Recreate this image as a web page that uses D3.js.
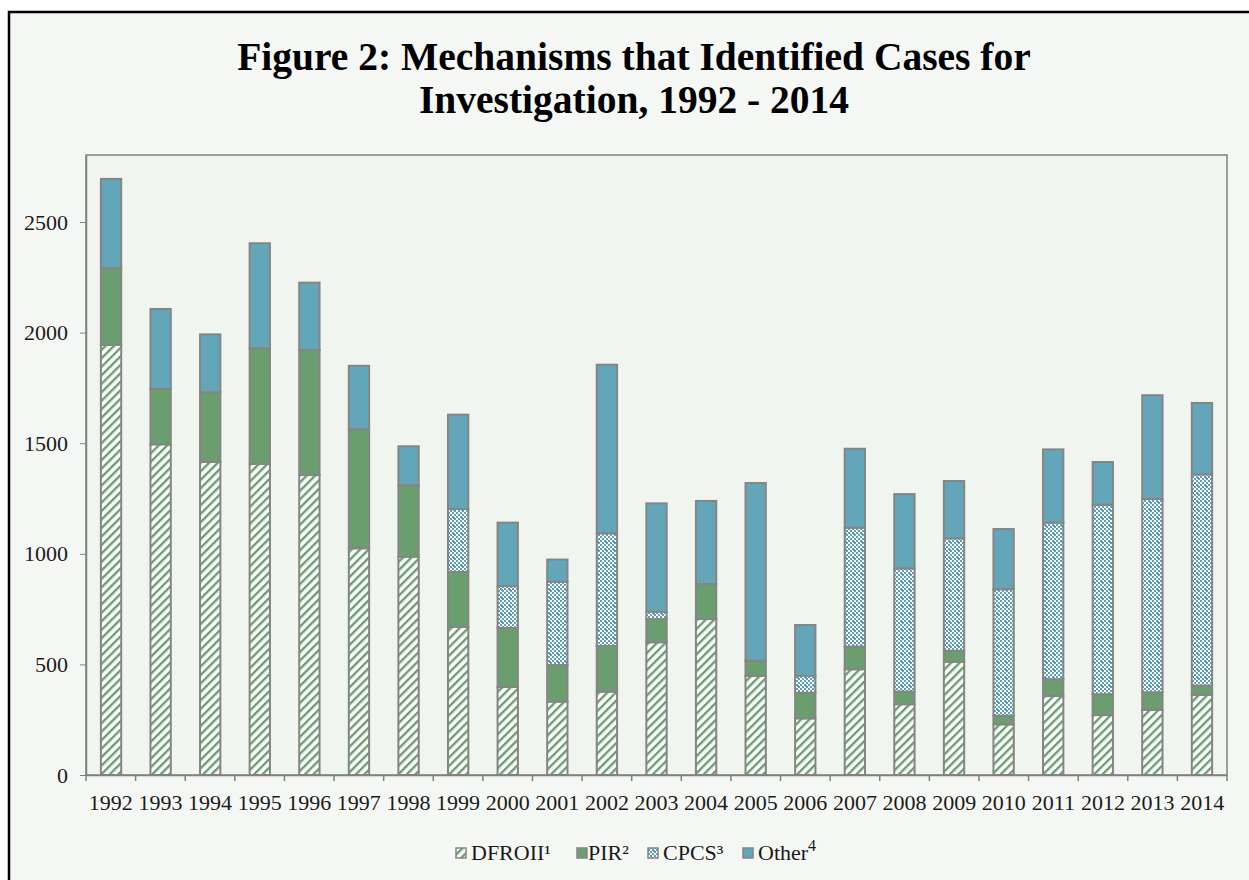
<!DOCTYPE html>
<html>
<head>
<meta charset="utf-8">
<script src="https://cdn.jsdelivr.net/npm/d3@7"></script>
<style>
  html, body { margin: 0; padding: 0; background: #ffffff; }
  svg { display: block; }
</style>
</head>
<body>
<main></main>
<script>
const years = ["1992","1993","1994","1995","1996","1997","1998","1999","2000","2001","2002","2003","2004","2005","2006","2007","2008","2009","2010","2011","2012","2013","2014"];
const dfroii = [1944,1495,1415,1406,1356,1025,987,669,398,332,377,600,705,448,256,478,320,512,229,357,271,294,362];
const pir    = [347,250,315,523,565,538,323,249,267,165,206,105,158,69,116,102,57,50,39,76,94,80,42];
const cpcs   = [0,0,0,0,0,0,0,285,189,377,510,33,0,0,77,538,557,508,572,708,857,874,955];
const other  = [404,362,262,475,305,287,176,426,287,100,762,490,376,803,229,357,336,259,272,331,193,469,323];
const yTicks = [0,500,1000,1500,2000,2500];
const seriesNames = ["DFROII\u00b9","PIR\u00b2","CPCS\u00b3","Other"];
const titleLines = ["Figure 2: Mechanisms that Identified Cases for","Investigation, 1992 - 2014"];

const w=1249, h=880;
const m={left:86, top:155, right:1227, bottom:775};
const font="'Liberation Serif','Times New Roman',serif";

const svg=d3.select("main").append("svg").attr("width",w).attr("height",h);

// patterns
const defs=svg.append("defs");
const hatch=defs.append("pattern").attr("id","hatch")
  .attr("patternUnits","userSpaceOnUse").attr("width",6).attr("height",6)
  .attr("patternTransform","rotate(45)");
hatch.append("rect").attr("width",6).attr("height",6).attr("fill","#ffffff");
hatch.append("rect").attr("width",2.4).attr("height",6).attr("fill","#6a9e6f");

const dots=defs.append("pattern").attr("id","dots")
  .attr("patternUnits","userSpaceOnUse").attr("width",8).attr("height",8);
dots.append("rect").attr("width",8).attr("height",8).attr("fill","#ffffff");
[[0,0],[4,0],[2,2],[6,2],[0,4],[4,4],[2,6],[6,6],[5,5]].forEach(p=>{
  dots.append("rect").attr("x",p[0]).attr("y",p[1]).attr("width",2).attr("height",2).attr("fill","#5a9fb6");
});

const fills=["url(#hatch)","#6a9e6f","url(#dots)","#63a6b9"];

// background + frame
svg.append("rect").attr("x",9).attr("y",12).attr("width",w).attr("height",h)
  .attr("fill","#f5f7f4").attr("stroke","#000").attr("stroke-width",2.5);

// title
svg.append("g").selectAll("text").data(titleLines).enter().append("text")
  .attr("x",634).attr("y",(d,i)=>70+i*43)
  .attr("text-anchor","middle")
  .style("font-family",font).style("font-weight","bold").style("font-size","39.5px")
  .attr("fill","#000").text(d=>d);

// plot area
svg.append("rect").attr("x",m.left).attr("y",m.top)
  .attr("width",m.right-m.left).attr("height",m.bottom-m.top)
  .attr("fill","#f0f5ef").attr("stroke","#808080").attr("stroke-width",1.5);

const x=d3.scaleBand().domain(years).range([m.left,m.right]).paddingInner(0.59).paddingOuter(0.3);
const y=d3.scaleLinear().domain([0,2803]).range([m.bottom,m.top]);

const rows=years.map((yr,i)=>({year:yr,DFROII:dfroii[i],PIR:pir[i],CPCS:cpcs[i],Other:other[i]}));
const stack=d3.stack().keys(["DFROII","PIR","CPCS","Other"])(rows);

svg.append("g").selectAll("g").data(stack).enter().append("g")
  .attr("fill",(d,i)=>fills[i])
  .selectAll("rect").data(d=>d.filter(s=>s[1]-s[0]>0)).enter().append("rect")
  .attr("x",d=>x(d.data.year))
  .attr("y",d=>y(d[1]))
  .attr("width",x.bandwidth())
  .attr("height",d=>y(d[0])-y(d[1]))
  .attr("stroke","#858585").attr("stroke-width",2);

// axes
const yAxis=d3.axisLeft(y).tickValues(yTicks).tickFormat(d3.format("d")).tickSize(6).tickSizeOuter(0).tickPadding(12);
const gy=svg.append("g").attr("transform","translate("+m.left+",0)").call(yAxis);
gy.select(".domain").attr("stroke","#808080").attr("stroke-width",1.5);
gy.selectAll(".tick line").attr("stroke","#808080");
gy.selectAll("text").style("font-family",font).style("font-size","22px").attr("fill","#1a1a1a");

const xb=d3.scaleBand().domain(years).range([m.left,m.right]);
const xAxis=d3.axisBottom(xb).tickSize(0).tickPadding(19);
const gx=svg.append("g").attr("transform","translate(0,"+m.bottom+")").call(xAxis);
gx.select(".domain").attr("stroke","#808080").attr("stroke-width",1.5);
gx.selectAll("text").style("font-family",font).style("font-size","22px").attr("fill","#1a1a1a");
svg.append("g").selectAll("line").data(years.concat(["end"])).enter().append("line")
  .attr("x1",(d,i)=>m.left+i*xb.step()).attr("x2",(d,i)=>m.left+i*xb.step())
  .attr("y1",m.bottom).attr("y2",m.bottom+6)
  .attr("stroke","#808080").attr("stroke-width",1.5);

// legend
const legendX=[456,577,648,743];
const legend=svg.append("g").attr("transform","translate(0,853)");
seriesNames.forEach((name,i)=>{
  const g=legend.append("g").attr("transform","translate("+legendX[i]+",0)");
  g.append("rect").attr("x",0).attr("y",-5).attr("width",10).attr("height",10)
    .attr("fill",fills[i]).attr("stroke","#858585").attr("stroke-width",1.5);
  const t=g.append("text").attr("x",i===1?11:15).attr("y",7)
    .style("font-family",font).style("font-size","22px").attr("fill","#1a1a1a").text(name);
  if(i===3){
    t.append("tspan").attr("dy",-9).style("font-size","16px").text("4");
  }
});
</script>
</body>
</html>
